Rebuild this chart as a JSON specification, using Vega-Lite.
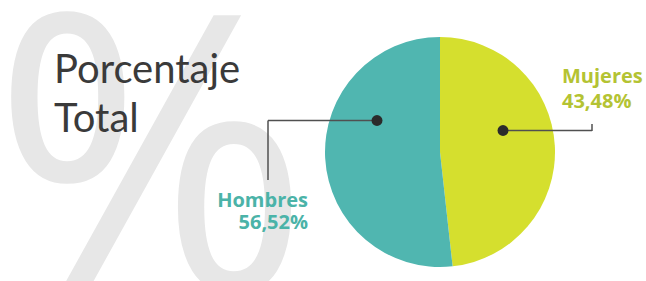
{
  "$schema": "https://vega.github.io/schema/vega-lite/v6.json",
  "width": 646,
  "height": 281,
  "autosize": "none",
  "padding": 0,
  "background": "#ffffff",
  "config": {"view": {"stroke": null}},
  "datasets": {
    "poblacion": [
      {"sexo": "Mujeres", "porcentaje": 48.25, "etiqueta": "43,48%", "orden": 1},
      {"sexo": "Hombres", "porcentaje": 51.75, "etiqueta": "56,52%", "orden": 2}
    ],
    "fondo": [{"simbolo": "%"}],
    "titulo": [{"texto": "Porcentaje\nTotal"}],
    "guia": [{}]
  },
  "layer": [
    {
      "data": {"name": "fondo"},
      "mark": {"type": "text", "align": "left", "baseline": "alphabetic", "font": "Open Sans", "fontSize": 385, "color": "#e7e7e7"},
      "encoding": {
        "text": {"field": "simbolo"},
        "x": {"datum": -8, "type": "quantitative", "scale": {"domain": [0, 646], "nice": false, "zero": false}, "axis": null},
        "y": {"datum": 290, "type": "quantitative", "scale": {"domain": [0, 281], "nice": false, "zero": false, "reverse": true}, "axis": null}
      }
    },
    {
      "data": {"name": "titulo"},
      "mark": {"type": "text", "align": "left", "baseline": "alphabetic", "font": "Lato", "fontWeight": 400, "fontSize": 40, "lineBreak": "\n", "lineHeight": 49, "color": "#3a3a3a"},
      "encoding": {
        "text": {"field": "texto"},
        "x": {"datum": 54, "type": "quantitative", "axis": null},
        "y": {"datum": 83, "type": "quantitative", "axis": null}
      }
    },
    {
      "data": {"name": "poblacion"},
      "mark": {"type": "arc", "outerRadius": 115},
      "encoding": {
        "theta": {"field": "porcentaje", "type": "quantitative", "stack": true},
        "order": {"field": "orden", "type": "quantitative"},
        "color": {"field": "sexo", "type": "nominal", "scale": {"domain": ["Mujeres", "Hombres"], "range": ["#d5df2e", "#50b6b0"]}, "legend": null},
        "x": {"datum": 440, "type": "quantitative", "axis": null},
        "y": {"datum": 152, "type": "quantitative", "axis": null}
      }
    },
    {
      "data": {"name": "guia"},
      "mark": {"type": "rule", "color": "#505050", "strokeWidth": 1.5},
      "encoding": {
        "x": {"datum": 268, "type": "quantitative", "axis": null},
        "x2": {"datum": 377},
        "y": {"datum": 120.5, "type": "quantitative", "axis": null}
      }
    },
    {
      "data": {"name": "guia"},
      "mark": {"type": "rule", "color": "#505050", "strokeWidth": 1.5},
      "encoding": {
        "x": {"datum": 268, "type": "quantitative", "axis": null},
        "y": {"datum": 120.5, "type": "quantitative", "axis": null},
        "y2": {"datum": 180}
      }
    },
    {
      "data": {"name": "guia"},
      "mark": {"type": "rule", "color": "#505050", "strokeWidth": 1.5},
      "encoding": {
        "x": {"datum": 503, "type": "quantitative", "axis": null},
        "x2": {"datum": 592},
        "y": {"datum": 130.5, "type": "quantitative", "axis": null}
      }
    },
    {
      "data": {"name": "guia"},
      "mark": {"type": "rule", "color": "#505050", "strokeWidth": 1.5},
      "encoding": {
        "x": {"datum": 592, "type": "quantitative", "axis": null},
        "y": {"datum": 124, "type": "quantitative", "axis": null},
        "y2": {"datum": 131}
      }
    },
    {
      "data": {"name": "poblacion"},
      "transform": [{"filter": "datum.sexo === 'Hombres'"}],
      "mark": {"type": "point", "filled": true, "opacity": 1, "size": 120, "color": "#2b2b2b"},
      "encoding": {
        "x": {"datum": 377, "type": "quantitative", "axis": null},
        "y": {"datum": 120.5, "type": "quantitative", "axis": null}
      }
    },
    {
      "data": {"name": "poblacion"},
      "transform": [{"filter": "datum.sexo === 'Mujeres'"}],
      "mark": {"type": "point", "filled": true, "opacity": 1, "size": 120, "color": "#2b2b2b"},
      "encoding": {
        "x": {"datum": 503, "type": "quantitative", "axis": null},
        "y": {"datum": 130.5, "type": "quantitative", "axis": null}
      }
    },
    {
      "data": {"name": "poblacion"},
      "transform": [{"filter": "datum.sexo === 'Hombres'"}],
      "mark": {"type": "text", "align": "right", "baseline": "alphabetic", "font": "Open Sans", "fontWeight": 700, "fontSize": 20, "color": "#4bb3a8"},
      "encoding": {
        "text": {"field": "sexo"},
        "x": {"datum": 308, "type": "quantitative", "axis": null},
        "y": {"datum": 207, "type": "quantitative", "axis": null}
      }
    },
    {
      "data": {"name": "poblacion"},
      "transform": [{"filter": "datum.sexo === 'Hombres'"}],
      "mark": {"type": "text", "align": "right", "baseline": "alphabetic", "font": "Open Sans", "fontWeight": 700, "fontSize": 20, "color": "#4bb3a8"},
      "encoding": {
        "text": {"field": "etiqueta"},
        "x": {"datum": 308, "type": "quantitative", "axis": null},
        "y": {"datum": 229, "type": "quantitative", "axis": null}
      }
    },
    {
      "data": {"name": "poblacion"},
      "transform": [{"filter": "datum.sexo === 'Mujeres'"}],
      "mark": {"type": "text", "align": "left", "baseline": "alphabetic", "font": "Open Sans", "fontWeight": 700, "fontSize": 20, "color": "#b4c333"},
      "encoding": {
        "text": {"field": "sexo"},
        "x": {"datum": 562, "type": "quantitative", "axis": null},
        "y": {"datum": 83, "type": "quantitative", "axis": null}
      }
    },
    {
      "data": {"name": "poblacion"},
      "transform": [{"filter": "datum.sexo === 'Mujeres'"}],
      "mark": {"type": "text", "align": "left", "baseline": "alphabetic", "font": "Open Sans", "fontWeight": 700, "fontSize": 20, "color": "#b4c333"},
      "encoding": {
        "text": {"field": "etiqueta"},
        "x": {"datum": 562, "type": "quantitative", "axis": null},
        "y": {"datum": 108, "type": "quantitative", "axis": null}
      }
    }
  ]
}
